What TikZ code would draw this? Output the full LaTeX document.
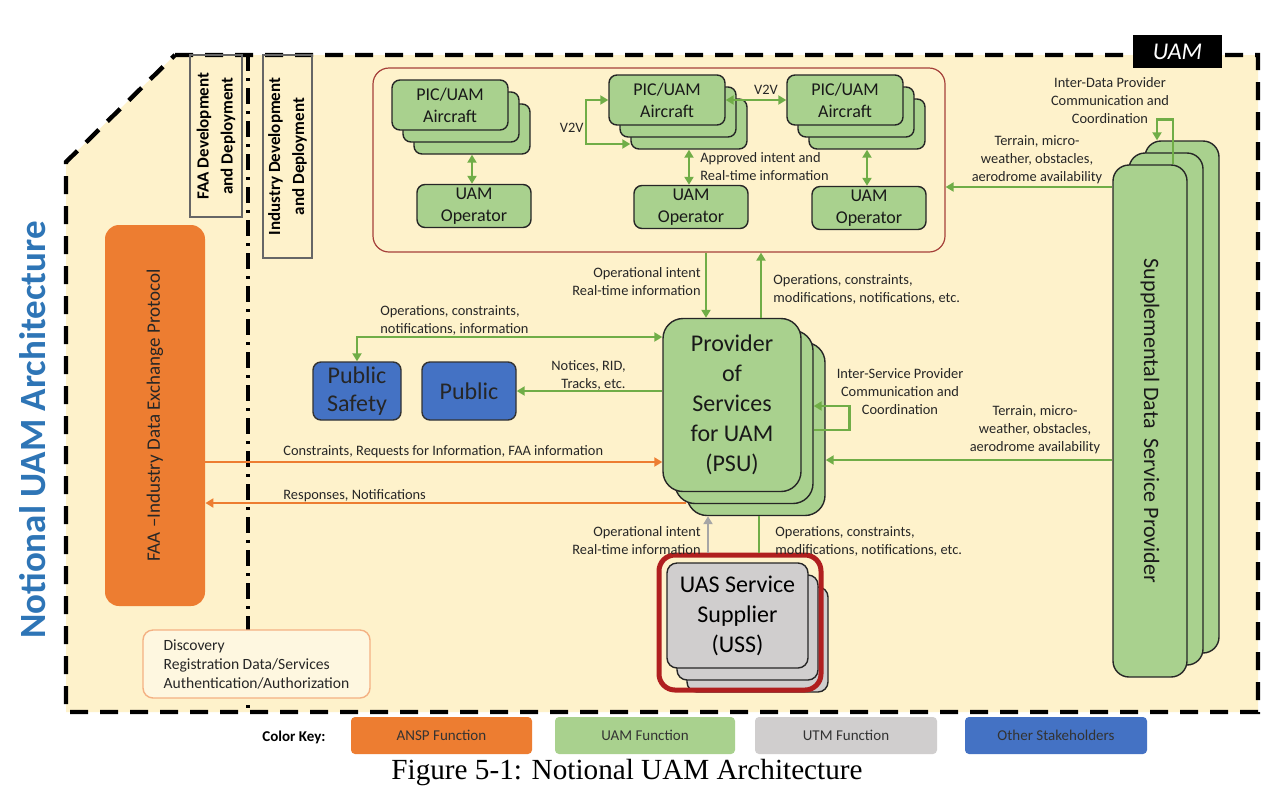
\documentclass[tikz,border=0pt]{standalone}
\usepackage{fontspec}
\setmainfont{Carlito}
\newfontfamily\capfont{Liberation Serif}
\usepackage{xcolor}
\usepackage{graphicx}
\usepackage{tikz}
\usetikzlibrary{positioning,calc,arrows.meta}

\definecolor{bgyellow}{HTML}{FEF2CB}
\definecolor{uamgreen}{HTML}{A9D18E}
\definecolor{linegreen}{HTML}{70AD47}
\definecolor{anspor}{HTML}{ED7D31}
\definecolor{utmgray}{HTML}{D0CECE}
\definecolor{stakeblue}{HTML}{4472C4}
\definecolor{titleblue}{HTML}{2E75B6}
\definecolor{grpred}{HTML}{A5403A}
\definecolor{ussred}{HTML}{B01F1F}
\definecolor{discline}{HTML}{F4B183}
\definecolor{labeltext}{HTML}{262626}

\begin{document}
\begin{tikzpicture}[x=0.5pt, y=-0.5pt,
    uambox/.style={draw=black!85, line width=0.7pt, fill=uamgreen, rounded corners=4pt,
        text=black!90, font=\fontsize{9}{11}\selectfont, align=center, inner sep=0pt},
    acsize/.style={minimum width=58pt, minimum height=25pt},
    opsize/.style={minimum width=57pt, minimum height=21.5pt},
    psusize/.style={minimum width=69pt, minimum height=86.5pt, rounded corners=10pt,
        font=\fontsize{12}{15}\selectfont},
    sdspsize/.style={minimum width=37pt, minimum height=256pt, rounded corners=8pt,
        font=\fontsize{11}{13}\selectfont},
    ussbox/.style={draw=black!85, line width=0.7pt, fill=utmgray, rounded corners=5pt,
        minimum width=70.5pt, minimum height=52.5pt, align=center, inner sep=0pt,
        font=\fontsize{12}{15}\selectfont},
    pubbox/.style={draw=black!80, line width=0.7pt, fill=stakeblue, rounded corners=4pt,
        minimum height=29pt, align=center, inner sep=0pt, text=black!85,
        font=\fontsize{12}{14}\selectfont},
    keybox/.style={rounded corners=2pt, minimum height=18.5pt, inner sep=0pt,
        text=black!80, font=\fontsize{7.5}{9}\selectfont},
    lbl/.style={font=\fontsize{7.2}{9}\selectfont, text=labeltext, align=center, inner sep=0pt},
    garrow/.style={draw=linegreen, line width=1.3pt, -{Triangle[length=4pt,width=4.5pt]}},
    garrowd/.style={draw=linegreen, line width=1.3pt,
        {Triangle[length=4pt,width=4.5pt]}-{Triangle[length=4pt,width=4.5pt]}},
    gline/.style={draw=linegreen, line width=1.3pt},
    oarrow/.style={draw=anspor, line width=1.1pt, -{Triangle[length=4pt,width=4.5pt]}},
    uarrow/.style={draw=black!35, line width=1.3pt, -{Triangle[length=4pt,width=4.5pt]}},
    outerline/.style={draw=black, line width=2.2pt, dash pattern=on 9pt off 6pt},
    divline/.style={draw=black, line width=1.6pt, dash pattern=on 8pt off 3.5pt on 1.5pt off 3.5pt}
]
    \useasboundingbox (0,0) rectangle (1280,799);
    \fill[white] (0,0) rectangle (1280,799);

    % UAM boundary
    \draw[outerline, fill=bgyellow] (175,55) -- (1258,55) -- (1258,712) -- (66,712) -- (66,162) -- cycle;
    \draw[divline] (248,55) -- (248,712);
    \node[fill=black, text=white, font=\fontsize{12}{12}\selectfont\itshape,
        minimum width=44.5pt, minimum height=16.5pt, inner sep=0pt] (uamTag) at (1177.5,51.5) {UAM};

    % Title and side boxes
    \node[rotate=90, text=titleblue, font=\bfseries\fontsize{18.5}{18.5}\selectfont] (title) at (33,430) {Notional UAM Architecture};
    \node[rotate=90, draw=black!60, line width=0.6pt, minimum width=81pt, minimum height=26pt,
        inner sep=0pt, align=center, font=\bfseries\fontsize{8.5}{12}\selectfont] (faaDev) at (216,136) {FAA Development\\and Deployment};
    \node[rotate=90, draw=black!60, line width=0.6pt, minimum width=101.5pt, minimum height=24.5pt,
        inner sep=0pt, align=center, font=\bfseries\fontsize{8.5}{12}\selectfont] (indDev) at (287.5,156.5) {Industry Development\\and Deployment};
    \node[fill=anspor, rounded corners=7pt, minimum width=50pt, minimum height=190.5pt, inner sep=0pt,
        text=black!85, font=\fontsize{9.5}{11}\selectfont] (faa) at (155,415.5) {\rotatebox{90}{FAA –Industry Data Exchange Protocol}};
    \node[draw=discline, fill=bgyellow!60!white, line width=0.7pt, rounded corners=5pt, minimum width=113.5pt, minimum height=34pt,
        inner sep=0pt, align=left, text=labeltext, font=\fontsize{7.8}{9.5}\selectfont] (disc) at (256.5,664)
        {Discovery\\Registration Data/Services\\Authentication/Authorization};

    % Aircraft and operators
    \node[draw=grpred, line width=0.6pt, rounded corners=8pt, minimum width=286pt, minimum height=92pt] (grp) at (659,160) {};
    \node[uambox, acsize] (acL3) at (472,129) {};
    \node[uambox, acsize] (acL2) at (461,117) {};
    \node[uambox, acsize] (acL) at (450,105) {PIC/UAM\\Aircraft};
    \node[uambox, acsize] (acM3) at (689,124) {};
    \node[uambox, acsize] (acM2) at (678,112) {};
    \node[uambox, acsize] (acM) at (667,100) {PIC/UAM\\Aircraft};
    \node[uambox, acsize] (acR3) at (867,124) {};
    \node[uambox, acsize] (acR2) at (856,112) {};
    \node[uambox, acsize] (acR) at (845,100) {PIC/UAM\\Aircraft};
    \node[uambox, opsize] (opL) at (474,206) {UAM\\Operator};
    \node[uambox, opsize] (opM) at (691,207) {UAM\\Operator};
    \node[uambox, opsize] (opR) at (869,208) {UAM\\Operator};

    \draw[garrowd] (acL3.south) -- (acL3.south |- opL.north);
    \draw[garrowd] (acM3.south) -- (acM3.south |- opM.north);
    \draw[garrowd] (acR3.south) -- (acR3.south |- opR.north);
    \coordinate (v2vBar) at (586,122);
    \draw[garrow] (v2vBar) |- (acM.west);
    \draw[garrow] (v2vBar) |- ([yshift=-10pt]acM3.west);
    \draw[garrowd] (acM.east) -- (acR.west);
    \node[lbl, anchor=east] (v2vLbl) at (584,128) {V2V};
    \node[lbl] (v2vTop) at (766,90) {V2V};
    \node[lbl, anchor=west, align=left] (apprLbl) at (700,167) {Approved intent and\\Real-time information};

    % PSU
    \node[uambox, psusize] (psu3) at (756,429) {};
    \node[uambox, psusize] (psu2) at (744,417) {};
    \node[uambox, psusize] (psu) at (732,405) {Provider\\of\\Services\\for UAM\\(PSU)};

    \draw[garrow] ([xshift=-13pt]psu.north |- grp.south) -- ([xshift=-13pt]psu.north);
    \draw[garrow] ([xshift=14.5pt]psu.north) -- ([xshift=14.5pt]psu.north |- grp.south);
    \node[lbl, anchor=east, align=right] (opInTop) at (701,282) {Operational intent\\Real-time information};
    \node[lbl, anchor=west, align=left] (opsTop) at (773,289) {Operations, constraints,\\modifications, notifications, etc.};

    % Other stakeholders
    \node[pubbox, minimum width=44pt] (pubS) at (357,391) {Public\\Safety};
    \node[pubbox, minimum width=47pt] (pub) at (469,391) {Public};
    \draw[garrowd] (pubS.north) |- ([yshift=34pt]psu.west);
    \draw[garrow] (psu.west |- pub.east) -- (pub.east);
    \node[lbl, anchor=west, align=left] (opsPub) at (380,320) {Operations, constraints,\\notifications, information};
    \node[lbl, anchor=east, align=right] (notLbl) at (626,375) {Notices, RID,\\Tracks, etc.};

    % inter-service loop
    \draw[garrow] ([yshift=-6.5pt]psu2.east) -- ++(36,0) |- ([yshift=5.5pt]psu2.east);
    \node[lbl] (isLbl) at (900,392) {Inter-Service Provider\\Communication and\\Coordination};

    % FAA exchange
    \draw[oarrow] ([yshift=-23.25pt]faa.east) -- ([yshift=-23.25pt]faa.east -| psu.west);
    \draw[oarrow] ([yshift=-43.75pt]faa.east -| psu3.west) -- ([yshift=-43.75pt]faa.east);
    \node[lbl, anchor=west] (conLbl) at (283,452) {Constraints, Requests for Information, FAA information};
    \node[lbl, anchor=west] (resLbl) at (283,496) {Responses, Notifications};

    % Supplemental data
    \node[uambox, sdspsize] (sdsp3) at (1182,397) {};
    \node[uambox, sdspsize] (sdsp2) at (1166,409) {};
    \node[uambox, sdspsize] (sdsp) at (1150,421) {\rotatebox{-90}{Supplemental Data~~Service Provider}};
    \draw[garrow] ([yshift=117pt]sdsp.west) -- ([yshift=117pt]sdsp.west -| grp.east);
    \draw[garrow] ([yshift=-19.5pt]sdsp.west) -- ([yshift=-19.5pt]sdsp.west -| psu3.east);
    \draw[garrow] ([xshift=11.5pt]sdsp.north) -- ++(0,-45) -| ([xshift=-12.5pt]sdsp3.north);
    \node[lbl] (terTop) at (1037,160) {Terrain, micro-\\weather, obstacles,\\aerodrome availability};
    \node[lbl] (terPsu) at (1035,430) {Terrain, micro-\\weather, obstacles,\\aerodrome availability};
    \node[lbl] (idLbl) at (1110,101) {Inter-Data Provider\\Communication and\\Coordination};

    % USS
    \node[ussbox] (uss3) at (757.5,639.5) {};
    \node[ussbox] (uss2) at (747.5,627.5) {};
    \node[ussbox] (uss) at (737.5,615.5) {UAS Service\\Supplier\\(USS)};
    \node[draw=ussred, line width=2.5pt, rounded corners=8pt, minimum width=81pt, minimum height=67.5pt] (ussRing) at (740,622.5) {};
    \draw[uarrow] ([xshift=-16pt]ussRing.north) -- ([xshift=-16pt]ussRing.north |- psu3.south);
    \draw[gline] ([xshift=9.5pt]ussRing.north |- psu3.south) -- ([xshift=9.5pt]ussRing.north);
    \node[lbl, anchor=east, align=right] (opInBot) at (701,541) {Operational intent\\Real-time information};
    \node[lbl, anchor=west, align=left] (opsBot) at (775,541) {Operations, constraints,\\modifications, notifications, etc.};

    % Color key
    \node[font=\bfseries\fontsize{7.5}{9}\selectfont] (keyLbl) at (294,737) {Color Key:};
    \node[keybox, fill=anspor, minimum width=90.5pt] (keyAnsp) at (441.5,735.5) {ANSP Function};
    \node[keybox, fill=uamgreen, minimum width=90pt] (keyUam) at (645,735.5) {UAM Function};
    \node[keybox, fill=utmgray, minimum width=91pt] (keyUtm) at (846,735.5) {UTM Function};
    \node[keybox, fill=stakeblue, minimum width=91pt] (keyOther) at (1056,735.5) {Other Stakeholders};

    \node[font=\capfont\fontsize{14.6}{16}\selectfont] (caption) at (627,773) {Figure 5-1: Notional UAM Architecture};
\end{tikzpicture}
\end{document}
